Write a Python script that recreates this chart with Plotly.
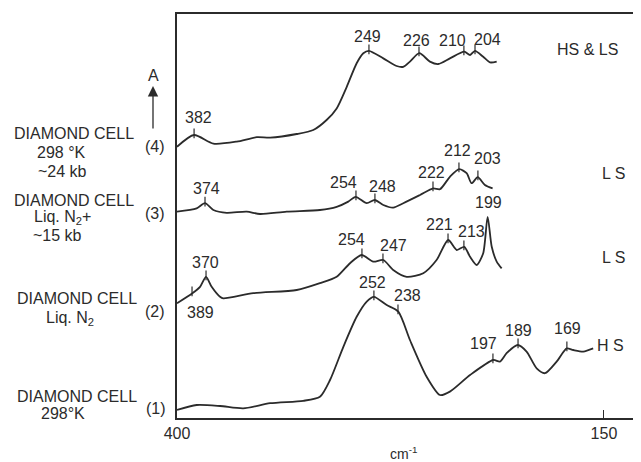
import plotly.graph_objects as go

# ---- Spectra (x: cm-1 along the printed axis, y: absorbance, arbitrary units, offset traces)
s4_x = [400.0, 390.0, 378.7, 365.0, 353.3, 345.5, 329.9, 320.2, 312.4, 306.5, 300.6, 294.8, 290.9,
        287.6, 279.2, 271.4, 267.5, 263.6, 258.1, 251.9, 247.0, 240.2, 231.8, 228.4, 225.5, 220.7,
        216.7, 212.8]
s4_y = [67.8, 70.75, 68.6, 69.1, 70.2, 70.1, 71.0, 72.0, 74.5, 77.4, 82.8, 88.7, 91.2,
        91.8, 89.9, 88.0, 87.8, 89.1, 91.2, 89.1, 88.5, 89.9, 91.6, 90.75, 91.8, 90.3,
        88.9, 89.1]

s3_x = [400.0, 388.5, 383.6, 378.7, 370.9, 359.2, 351.4, 335.8, 316.3, 306.5, 299.7, 295.4, 288.9,
        284.2, 279.2, 273.4, 267.5, 257.7, 250.0, 246.0, 240.2, 234.7, 230.4, 227.5, 223.9, 219.7,
        215.2]
s3_y = [51.6, 52.4, 53.7, 52.0, 51.3, 51.6, 51.0, 51.6, 52.0, 52.8, 54.1, 55.3, 53.7,
        54.5, 53.25, 52.6, 53.7, 55.75, 57.4, 57.2, 60.3, 62.2, 61.2, 58.7, 60.2, 58.25,
        57.4]

s2_x = [400.0, 391.0, 386.5, 383.0, 379.7, 374.8, 372.9, 355.3, 329.9, 316.3, 306.5, 298.7, 291.9,
        285.1, 279.2, 273.4, 265.5, 255.8, 248.0, 241.2, 236.2, 231.8, 228.4, 224.5, 220.7, 218.1,
        215.7, 212.8, 209.9]
s2_y = [28.7, 31.2, 32.8, 35.3, 32.8, 30.3, 29.9, 31.2, 32.0, 33.7, 35.3, 38.7, 40.75,
        39.1, 39.5, 37.0, 35.3, 36.2, 39.5, 44.5, 42.0, 42.8, 40.3, 38.25, 41.2, 50.3,
        42.8, 39.1, 37.4]

s1_x = [400.0, 388.5, 374.8, 361.2, 345.5, 326.1, 316.3, 310.4, 302.6, 294.8, 288.9, 284.7, 277.2,
        270.4, 263.6, 253.8, 246.0, 240.2, 228.4, 214.8, 210.9, 207.0, 200.5, 195.3, 189.4, 184.5,
        177.7, 171.8, 168.0, 162.1, 156.3]
s1_y = [2.0, 3.25, 3.0, 2.4, 3.7, 4.3, 5.3, 9.5, 17.8, 25.3, 29.1, 30.3, 28.25,
        26.6, 19.5, 10.3, 5.75, 6.6, 10.75, 14.5, 14.1, 16.2, 18.25, 16.6, 12.4, 11.2,
        14.1, 17.4, 17.0, 16.6, 17.4]

# ---- Marked peaks: label, position on axis, absorbance at the mark
p4_lab = ["382", "249", "226", "210", "204"]
p4_x = [390.0, 287.6, 258.3, 232.0, 225.5]
p4_y = [70.75, 91.75, 91.25, 91.5, 91.75]

p3_lab = ["374", "254", "248", "222", "212", "203"]
p3_x = [383.6, 295.2, 284.1, 250.1, 234.9, 223.8]
p3_y = [53.7, 55.25, 54.5, 57.5, 62.25, 60.25]

p2_lab = ["370", "254", "247", "221", "213", "199", "389"]
p2_x = [383.0, 291.7, 279.4, 241.3, 232.0, 217.9, 391.2]
p2_y = [35.25, 40.75, 39.5, 44.5, 42.75, 50.25, 31.25]
p2_tick = [True, True, True, True, True, False, True]

p1_lab = ["252", "238", "197", "189", "169"]
p1_x = [284.7, 270.6, 215.0, 200.3, 171.7]
p1_y = [30.25, 26.75, 14.5, 18.25, 17.5]

x_tick_vals = [400, 150]
x_tick_text = ["400", "150"]

# label offsets (pixels) relative to each peak mark
p4_off = [(4, 18), (-1, 15), (-2, 13), (-11, 12), (12, 12)]
p3_off = [(1, 15), (-12, 15), (8, 14), (-1, 16), (-1, 19), (10, 19)]
p2_off = [(-1, 15), (-10, 16), (11, 15), (-9, 16), (8, 16), (1, 15), (8, -19)]
p1_off = [(-1, 15), (10, 16), (-9, 17), (0, 15), (1, 20)]

INK = "#2b2b2b"
FONT = "Liberation Sans, Arial, sans-serif"
FS = 16

# page body has an 8 px margin; the figure is sized so the plot area lands at
# x 177..641, y 14..418 in the 641x462 window
PAGE_OFF = 8

fig = go.Figure()

for xs, ys in [(s4_x, s4_y), (s3_x, s3_y), (s2_x, s2_y), (s1_x, s1_y)]:
    fig.add_trace(go.Scatter(x=xs, y=ys, mode="lines",
                             line=dict(color=INK, width=1.8, shape="spline", smoothing=0.7),
                             hoverinfo="skip", showlegend=False))

annotations = []
tick_x, tick_y = [], []
groups = [
    (p4_lab, p4_x, p4_y, [True] * len(p4_lab), p4_off),
    (p3_lab, p3_x, p3_y, [True] * len(p3_lab), p3_off),
    (p2_lab, p2_x, p2_y, p2_tick, p2_off),
    (p1_lab, p1_x, p1_y, [True] * len(p1_lab), p1_off),
]
for labs, xs, ys, ticks, offs in groups:
    for lab, x, y, t, (dx, dy) in zip(labs, xs, ys, ticks, offs):
        if t:
            tick_x += [x, x, None]
            tick_y += [y - 0.8, y + 1.6, None]
        annotations.append(dict(x=x, y=y, xref="x", yref="y", text=lab, showarrow=False,
                                xshift=dx, yshift=dy, font=dict(size=FS, color=INK, family=FONT)))

fig.add_trace(go.Scatter(x=tick_x, y=tick_y, mode="lines", line=dict(color=INK, width=1.2),
                         hoverinfo="skip", showlegend=False))

# plot area in window pixels: x 177..641, y 14..418
def P(px, py):
    return (px - 177) / 464.0, (418 - py) / 404.0

def txt(px, py, s, size=FS):
    x, y = P(px, py)
    annotations.append(dict(x=x, y=y, xref="paper", yref="paper", text=s, showarrow=False,
                            xanchor="center", yanchor="middle",
                            font=dict(size=size, color=INK, family=FONT)))

txt(587, 50, "HS &amp; LS")
txt(613, 173, "L S")
txt(613, 257, "L S")
txt(610, 345, "H S")

txt(74, 133, "DIAMOND CELL")
txt(61, 152, "298 °K")
txt(62, 171, "~24 kb")
txt(74, 200, "DIAMOND CELL")
txt(62, 217, "Liq. N<sub>2</sub>+")
txt(58, 235, "~15 kb")
txt(77, 298, "DIAMOND CELL")
txt(70, 318, "Liq. N<sub>2</sub>")
txt(77, 396, "DIAMOND CELL")
txt(63, 413, "298°K")

txt(155, 147, "(4)")
txt(155, 213, "(3)")
txt(155, 311, "(2)")
txt(156, 408, "(1)")

txt(153, 75, "A")
txt(403, 453, "cm<sup>-1</sup>", size=14)
hx, hy = P(153, 86)
annotations.append(dict(x=hx, y=hy, xref="paper", yref="paper", ax=0, ay=44, text="",
                        showarrow=True, arrowhead=2, arrowsize=1.6, arrowwidth=1.3,
                        arrowcolor=INK))

fig.update_layout(
    width=641 - PAGE_OFF, height=462 - PAGE_OFF, autosize=False,
    margin=dict(l=177 - PAGE_OFF, r=0, t=14 - PAGE_OFF, b=44),
    paper_bgcolor="white", plot_bgcolor="white",
    showlegend=False,
    annotations=annotations,
    xaxis=dict(range=[400, 128.3], showline=True, mirror=True, linecolor=INK, linewidth=1.6,
               ticks="inside", ticklen=8, tickwidth=1.4, tickcolor=INK,
               tickvals=x_tick_vals, ticktext=x_tick_text, showgrid=False, zeroline=False,
               tickfont=dict(size=FS, color=INK, family=FONT), automargin=False),
    yaxis=dict(range=[0, 101], showline=True, mirror=False, linecolor=INK, linewidth=1.6,
               showticklabels=False, ticks="", showgrid=False, zeroline=False),
)

fig.write_html("out.html")
